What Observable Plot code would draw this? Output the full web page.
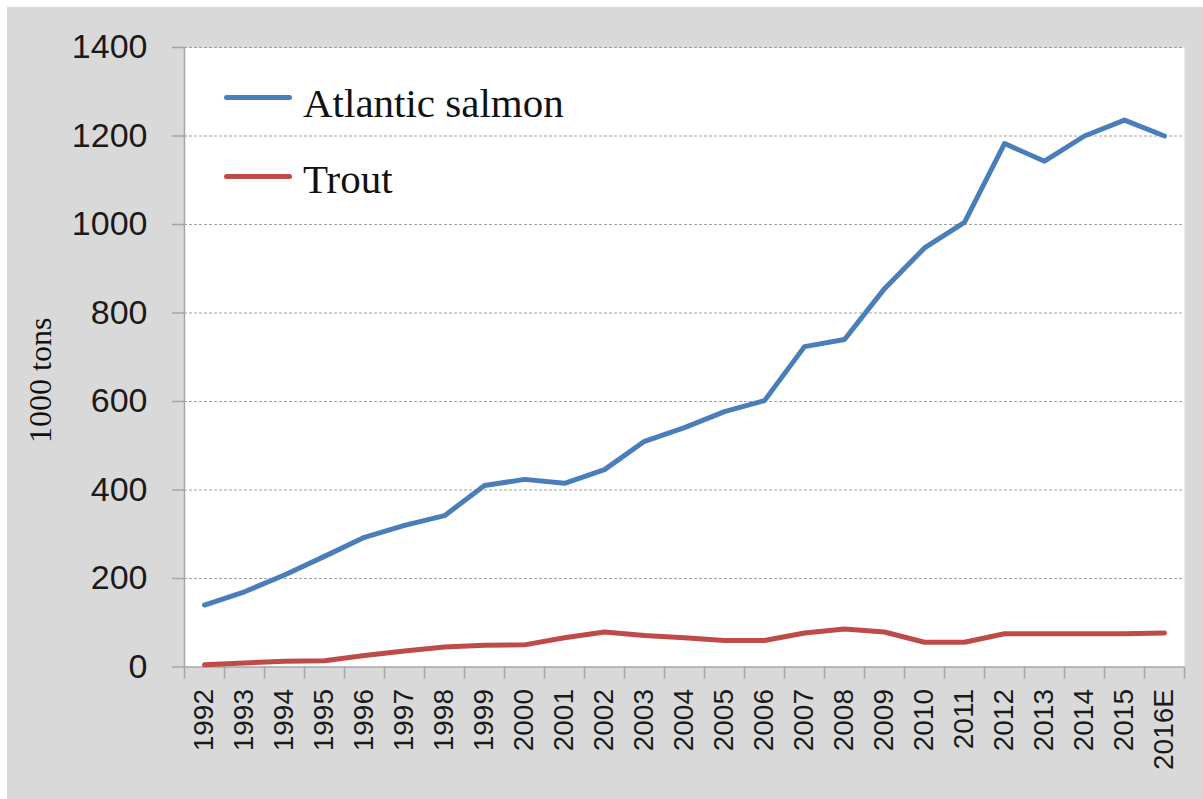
<!DOCTYPE html>
<html>
<head>
<meta charset="utf-8">
<script src="https://cdn.jsdelivr.net/npm/d3@7"></script>
<script src="https://cdn.jsdelivr.net/npm/@observablehq/plot@0.6"></script>
<style>
  html, body { margin: 0; padding: 0; background: #ffffff; }
  #wrap { position: absolute; left: 7px; top: 7px; width: 1196px; height: 792px; background: #d9d9d9; }
  .leg { position: absolute; font-family: "Liberation Serif", "Times New Roman", serif; font-size: 41px; line-height: 41px; color: #111; white-space: nowrap; }
  .sw { position: absolute; height: 5px; border-radius: 3px; }
</style>
</head>
<body>
<div id="wrap"></div>
<div class="sw" style="left:224px; top:95px; width:68px; background:#4a7ebb;"></div>
<div class="leg" style="left:303px; top:83px;">Atlantic salmon</div>
<div class="sw" style="left:224px; top:174px; width:68px; background:#be4b48;"></div>
<div class="leg" style="left:303px; top:159px;">Trout</div>
<script>
const years = ["1992","1993","1994","1995","1996","1997","1998","1999","2000","2001","2002","2003","2004","2005","2006","2007","2008","2009","2010","2011","2012","2013","2014","2015","2016E"];
const salmon = [140,170,208,250,293,320,342,410,424,415,446,510,541,577,602,724,740,855,947,1005,1183,1143,1200,1236,1200];
const trout = [5,9,13,14,26,36,45,49,50,66,79,71,66,60,60,77,86,79,56,56,75,75,75,75,77];
const yTicks = [0,200,400,600,800,1000,1200,1400];
const yLabel = "1000 tons";

const idx = years.map((_, i) => i);
const bounds = years.map((_, i) => i - 0.5).concat([years.length - 0.5]);
const salmonData = idx.map(i => ({i, v: salmon[i]}));
const troutData = idx.map(i => ({i, v: trout[i]}));

const axisGray = "#a6a6a6";
const plot = Plot.plot({
  width: 1196,
  height: 792,
  marginLeft: 177,
  marginRight: 19,
  marginTop: 40,
  marginBottom: 132.5,
  style: {background: "#d9d9d9", fontFamily: "'Liberation Sans', Arial, sans-serif", color: "#1a1a1a"},
  x: {type: "linear", domain: [-0.5, years.length - 0.5]},
  y: {domain: [0, 1400]},
  marks: [
    Plot.frame({fill: "white", stroke: "none"}),
    Plot.gridY(yTicks.filter(d => d > 0), {stroke: "#a0a0a0", strokeOpacity: 1, strokeDasharray: "3,2", strokeWidth: 1.2}),
    Plot.ruleX([-0.5], {stroke: axisGray, strokeWidth: 1.5}),
    Plot.ruleY([0], {stroke: axisGray, strokeWidth: 1.5}),
    Plot.axisY({ticks: yTicks, tickSize: 12, tickPadding: 25, stroke: axisGray, strokeWidth: 1.5, fill: "#1a1a1a", fontSize: 34, tickFormat: d => String(d), label: null}),
    Plot.axisX({ticks: bounds, tickSize: 12, stroke: axisGray, strokeWidth: 1.5, tickFormat: () => "", label: null}),
    Plot.axisX({ticks: idx, tickSize: 0, tickPadding: 22, tickRotate: -90, fill: "#1a1a1a", fontSize: 28, tickFormat: i => years[i], label: null}),
    Plot.text([yLabel], {frameAnchor: "left", textAnchor: "middle", dx: -144, dy: 23, rotate: -90, text: d => d, fontFamily: "'Liberation Serif', 'Times New Roman', serif", fontSize: 32, fill: "#111"}),
    Plot.line(troutData, {x: "i", y: "v", stroke: "#be4b48", strokeWidth: 5, strokeLinejoin: "round", strokeLinecap: "round"}),
    Plot.line(salmonData, {x: "i", y: "v", stroke: "#4a7ebb", strokeWidth: 5, strokeLinejoin: "round", strokeLinecap: "round"})
  ]
});
document.getElementById("wrap").appendChild(plot);
</script>
</body>
</html>
